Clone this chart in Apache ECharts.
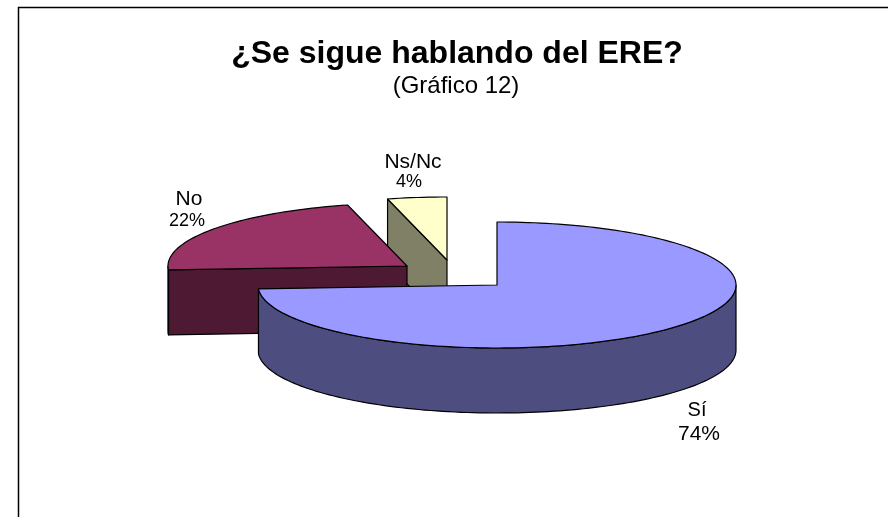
<!DOCTYPE html>
<html><head><meta charset="utf-8">
<style>html,body{margin:0;padding:0;background:#fff}#c{width:888px;height:517px}</style>
<script src="https://cdn.jsdelivr.net/npm/echarts@6/dist/echarts.min.js"></script>
</head><body><div id="c"></div>
<script>
const categories = ['Sí', 'No', 'Ns/Nc'];
const values = [74, 22, 4];
const topColors = ['#9999FF', '#993366', '#FFFFCC'];
const sideColors = ['#4D4D80', '#4D1933', '#808066'];
const centers = [[497, 285], [407, 266], [447, 260]];
const namePos = [[697, 410], [189, 199], [413, 162]];
const pctPos = [[699, 434], [187, 221], [409, 182]];
const nameSizes = [20, 21, 21];
const pctSizes = [21, 18, 18];
const RX = 239, RY = 63, DEPTH = 65;

const total = values.reduce((a, b) => a + b, 0);
const starts = [];
values.reduce((acc, v, i) => { starts[i] = acc; return acc + v; }, 0);

function pt(c, deg, dy) {
  const r = deg * Math.PI / 180;
  return [c[0] + RX * Math.sin(r), c[1] - RY * Math.cos(r) + (dy || 0)];
}
function arc(c, a0, a1, dy) {
  const n = Math.max(2, Math.ceil(Math.abs(a1 - a0) / 1.5));
  const out = [];
  for (let i = 0; i <= n; i++) out.push(pt(c, a0 + (a1 - a0) * i / n, dy));
  return out;
}
const stroke = { stroke: '#000', lineWidth: 1.2, lineJoin: 'round' };

function renderItem(params, api) {
  const i = api.value(0);
  const v = api.value(1);
  const a0 = api.value(2) / total * 360;
  const a1 = a0 + v / total * 360;
  const c = centers[i];
  const children = [];
  const poly = (points, fill) => children.push({
    type: 'polygon', shape: { points }, style: Object.assign({ fill }, stroke)
  });
  const side = sideColors[i];
  if (Math.sin(a0 * Math.PI / 180) < -1e-6) {
    const p = pt(c, a0);
    poly([p, c, [c[0], c[1] + DEPTH], [p[0], p[1] + DEPTH]], side);
  }
  if (Math.sin(a1 * Math.PI / 180) > 1e-6) {
    const p = pt(c, a1);
    poly([p, c, [c[0], c[1] + DEPTH], [p[0], p[1] + DEPTH]], side);
  }
  const f0 = Math.max(a0, 90), f1 = Math.min(a1, 270);
  if (f1 > f0) {
    poly(arc(c, f0, f1, 0).concat(arc(c, f1, f0, DEPTH)), side);
  }
  poly([c].concat(arc(c, a0, a1, 0)), topColors[i]);
  return { type: 'group', children };
}

const chart = echarts.init(document.getElementById('c'), null, { renderer: 'canvas' });
const font = '"Liberation Sans", Arial, sans-serif';
const seriesData = values.map((v, i) => [i, v, starts[i]]).reverse();
const txt = (x, y, text, size) => ({
  type: 'text',
  style: { x, y, text, fontFamily: font, fontSize: size, fill: '#000', align: 'center', verticalAlign: 'middle' }
});
chart.setOption({
  animation: false,
  backgroundColor: '#fff',
  title: [
    { text: '¿Se sigue hablando del ERE?', left: 452, top: 33, textAlign: 'center',
      textStyle: { fontFamily: font, fontSize: 32, fontWeight: 'bold', color: '#000' } },
    { text: '(Gráfico 12)', left: 451, top: 69, textAlign: 'center',
      textStyle: { fontFamily: font, fontSize: 24, fontWeight: 'normal', color: '#000' } }
  ],
  graphic: [{
    type: 'polyline', silent: true,
    shape: { points: [[18.5, 530], [18.5, 7.5], [890, 7.5]] },
    style: { fill: 'none', stroke: '#000', lineWidth: 1.5 }
  }],
  series: [{
    type: 'custom', coordinateSystem: 'none', silent: true,
    renderItem, data: seriesData,
    encode: { value: [1] }
  }, {
    type: 'custom', coordinateSystem: 'none', silent: true, z: 5,
    data: values.map((v, i) => [i, v]),
    renderItem(params, api) {
      const i = api.value(0);
      return {
        type: 'group',
        children: [
          txt(namePos[i][0], namePos[i][1], categories[i], nameSizes[i]),
          txt(pctPos[i][0], pctPos[i][1], api.value(1) + '%', pctSizes[i])
        ]
      };
    }
  }]
});
</script></body></html>
